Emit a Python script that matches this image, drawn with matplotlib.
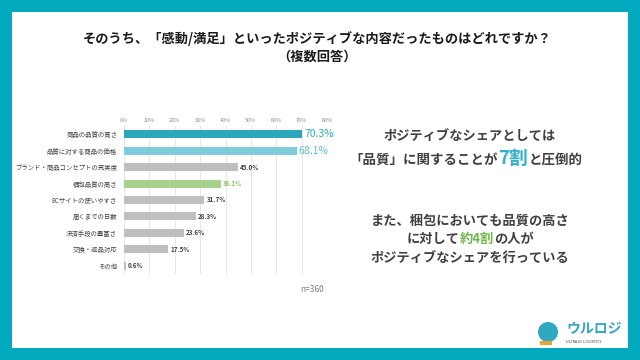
import matplotlib
matplotlib.use('Agg')
import matplotlib.pyplot as plt
from matplotlib.patches import Rectangle, Ellipse

plt.rcParams['font.family'] = ['Noto Sans CJK JP', 'DejaVu Sans']

TEAL = '#00A9BE'
DARK = '#404040'

categories = [
    '商品の品質の高さ',
    '品質に対する商品の価格',
    'ブランド・商品コンセプトの充実度',
    '梱包品質の高さ',
    'ECサイトの使いやすさ',
    '届くまでの日数',
    '決済手段の豊富さ',
    '交換・返品対応',
    'その他',
]
values = [70.3, 68.1, 45.0, 38.1, 31.7, 28.3, 23.6, 17.5, 0.6]
xticks = [0, 10, 20, 30, 40, 50, 60, 70, 80]

bar_colors = ['#2BA8B9', '#7FCCDC', '#BFBFBF', '#A9D18E', '#BFBFBF',
              '#BFBFBF', '#BFBFBF', '#BFBFBF', '#BFBFBF']
label_colors = ['#2BA8B9', '#5DBDD2', DARK, '#8CBF68', DARK,
                DARK, DARK, DARK, DARK]
label_sizes = [7.5, 7.5, 4.5, 4.5, 4.5, 4.5, 4.5, 4.5, 4.5]

W, H = 640, 360
fig = plt.figure(figsize=(6.4, 3.6), dpi=100)
fig.patch.set_facecolor(TEAL)

# white panel inside the teal frame
fig.patches.append(Rectangle((12 / W, 1 - 348 / H), 616 / W, 336 / H,
                             transform=fig.transFigure, facecolor='white',
                             edgecolor='none', zorder=-1))

# title
fig.text(317 / W, 1 - 39 / H, 'そのうち、「感動/満足」といったポジティブな内容だったものはどれですか？',
         ha='center', va='center', fontsize=9.5, fontweight='bold', color='#1A1A1A')
fig.text(317 / W, 1 - 57 / H, '（複数回答）',
         ha='center', va='center', fontsize=9.5, fontweight='bold', color='#1A1A1A')

# bar chart
ax = fig.add_axes([124 / W, 1 - 274 / H, (327 - 124) / W, (274 - 126) / H])
ax.set_facecolor('none')
y = list(range(len(categories)))
ax.barh(y, values, height=0.48, color=bar_colors, zorder=2)
ax.set_xlim(0, 80)
ax.set_ylim(len(categories) - 0.5, -0.5)
ax.set_xticks(xticks)
ax.set_xticklabels([f'{t}%' for t in xticks], fontsize=4, color='#8C8C8C')
ax.xaxis.tick_top()
ax.tick_params(axis='x', length=0, pad=2)
ax.set_yticks(y)
ax.set_yticklabels(categories, fontsize=4.6, color=DARK)
ax.tick_params(axis='y', length=0, pad=5)
ax.grid(axis='x', color='#E3E3E3', linewidth=0.6, zorder=0)
for s in ax.spines.values():
    s.set_visible(False)

for i, v in enumerate(values):
    ax.text(v + 0.8, i, f'{v:.1f}%', va='center', ha='left',
            fontsize=label_sizes[i], color=label_colors[i],
            fontweight='bold' if label_sizes[i] < 6 else 'normal')

fig.text(312 / W, 1 - 290 / H, 'n=360', ha='center', va='center',
         fontsize=6, color='#7F7F7F')


def rich_line(xc, yc, pieces):
    # pieces: (text, color, size); drawn left to right, centred on xc
    renderer = fig.canvas.get_renderer()
    objs = []
    total = 0
    for s, color, size in pieces:
        t = fig.text(0, 1 - yc / H, s, color=color, fontsize=size,
                     fontweight='bold', ha='left', va='baseline')
        w = t.get_window_extent(renderer).width
        objs.append((t, w))
        total += w
    x = xc - total / 2
    for t, w in objs:
        t.set_x(x / W)
        x += w


rich_line(470, 140, [('ポジティブなシェアとしては', DARK, 9.5)])
rich_line(466, 164, [('「品質」に関することが', DARK, 9.7),
                     ('7割', '#36B0C8', 13.5),
                     ('と圧倒的', DARK, 9.7)])
rich_line(470, 225, [('また、梱包においても品質の高さ', DARK, 9.5)])
rich_line(470, 243, [('に対して', DARK, 9.5), ('約4割', '#70B84A', 9.5),
                     ('の人が', DARK, 9.5)])
rich_line(470, 262, [('ポジティブなシェアを行っている', DARK, 9.5)])

# logo
fig.patches.append(Ellipse((548 / W, 1 - 332 / H), 20 / W, 20 / H,
                           transform=fig.transFigure,
                           facecolor='#2FA9BF', edgecolor='none'))
fig.patches.append(Rectangle((540 / W, 1 - 345 / H), 12 / W, 4 / H,
                             transform=fig.transFigure, facecolor='#E8A33B',
                             edgecolor='none'))
fig.text(566 / W, 1 - 329 / H, 'ウルロジ', fontsize=10, fontweight='bold',
         style='italic', color='#2FA9BF', ha='left', va='center')
fig.text(566 / W, 1 - 342 / H, 'ULTRA EC LOGISTICS', fontsize=2.6,
         color='#333333', ha='left', va='center')

fig.savefig('out.png', dpi=100, facecolor=fig.get_facecolor())
